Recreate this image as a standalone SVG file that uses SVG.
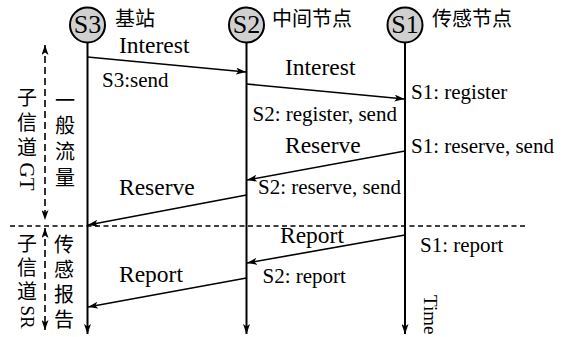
<svg xmlns="http://www.w3.org/2000/svg" width="565" height="337" viewBox="0 0 565 337">
<style>
.msg{font-family:"Liberation Serif",serif;font-size:23.5px;fill:#000}
.st{font-family:"Liberation Serif",serif;font-size:21px;fill:#000}
.nid{font-family:"Liberation Serif",serif;font-size:26px;text-anchor:middle;fill:#000}
.tm{font-family:"Liberation Serif",serif;font-size:19px;fill:#000}
.cjk{font-family:"Noto Sans CJK SC",sans-serif;font-size:20px;fill:#000}
.vc{font-family:"Noto Sans CJK SC",sans-serif;font-size:20px;fill:#000;writing-mode:vertical-rl}
.vm{font-family:"Noto Sans CJK SC",sans-serif;font-size:20px;fill:#000;writing-mode:vertical-rl}
.node{fill:#d0d0d0;stroke:#000;stroke-width:2}
.life{stroke:#000;stroke-width:2;fill:none}
.conn{stroke:#000;stroke-width:1.6;fill:none}
.dash{stroke:#000;stroke-width:1.5;fill:none;stroke-dasharray:5 3.5}
.vdash{stroke:#000;stroke-width:1.6;fill:none;stroke-dasharray:7 4}
</style>
<defs>
<marker id="ah" viewBox="0 0 10 7" refX="10" refY="3.5" markerWidth="10" markerHeight="7" markerUnits="userSpaceOnUse" orient="auto-start-reverse">
<path d="M0,0 L10,3.5 L0,7 L2.5,3.5 z" fill="#000"/>
</marker>
</defs>
<rect width="565" height="337" fill="#fff"/>

<g id="node-s3">
<line class="life" x1="87.5" y1="43" x2="87.5" y2="334" marker-end="url(#ah)"/>
<circle class="node" cx="87.5" cy="25" r="17.5"/>
<text class="nid" x="87.5" y="33">S3</text>
<text class="cjk" x="115" y="26">基站</text>
</g>
<g id="node-s2">
<line class="life" x1="246.5" y1="43" x2="246.5" y2="334" marker-end="url(#ah)"/>
<circle class="node" cx="246.5" cy="25" r="17.5"/>
<text class="nid" x="246.5" y="33">S2</text>
<text class="cjk" x="272" y="26">中间节点</text>
</g>
<g id="node-s1">
<line class="life" x1="405" y1="43" x2="405" y2="334" marker-end="url(#ah)"/>
<circle class="node" cx="405" cy="25" r="17.5"/>
<text class="nid" x="405" y="33">S1</text>
<text class="cjk" x="432" y="26">传感节点</text>
<text class="tm" transform="translate(424,295) rotate(90)">Time</text>
</g>

<g id="connectors">
<line class="conn" x1="87.5" y1="57" x2="246" y2="72" marker-end="url(#ah)"/>
<line class="conn" x1="246.5" y1="84" x2="404.5" y2="99" marker-end="url(#ah)"/>
<line class="conn" x1="405" y1="151" x2="247" y2="180" marker-end="url(#ah)"/>
<line class="conn" x1="246.5" y1="195" x2="88" y2="225" marker-end="url(#ah)"/>
<line class="conn" x1="405" y1="235" x2="247" y2="263" marker-end="url(#ah)"/>
<line class="conn" x1="246.5" y1="278" x2="88" y2="307" marker-end="url(#ah)"/>
</g>

<g id="labels">
<text class="msg" x="119" y="53">Interest</text>
<text class="st" x="102" y="87">S3:send</text>
<text class="msg" x="285" y="75">Interest</text>
<text class="st" x="411" y="99">S1: register</text>
<text class="st" x="252.5" y="121">S2: register, send</text>
<text class="msg" x="285" y="153">Reserve</text>
<text class="st" x="411" y="153">S1: reserve, send</text>
<text class="st" x="258" y="194">S2: reserve, send</text>
<text class="msg" x="119" y="195">Reserve</text>
<text class="msg" x="280" y="243">Report</text>
<text class="st" x="420" y="252">S1: report</text>
<text class="st" x="262.5" y="283">S2: report</text>
<text class="msg" x="119" y="282">Report</text>
</g>

<g id="phases">
<line class="dash" x1="10" y1="226" x2="527" y2="226"/>
<line class="vdash" x1="45" y1="45" x2="45" y2="220" marker-start="url(#ah)" marker-end="url(#ah)"/>
<line class="vdash" x1="45" y1="228" x2="45" y2="330" marker-start="url(#ah)" marker-end="url(#ah)"/>
<text class="vc" x="27" y="87.5"><tspan letter-spacing="5">子信道</tspan><tspan font-family="Liberation Serif, serif" font-size="21">GT</tspan></text>
<text class="vm" letter-spacing="5.8" x="65" y="90">一般流量</text>
<text class="vc" x="27" y="233.5"><tspan letter-spacing="4">子信道</tspan><tspan font-family="Liberation Serif, serif" font-size="19">SR</tspan></text>
<text class="vm" letter-spacing="5" x="64" y="234">传感报告</text>
</g>
</svg>
